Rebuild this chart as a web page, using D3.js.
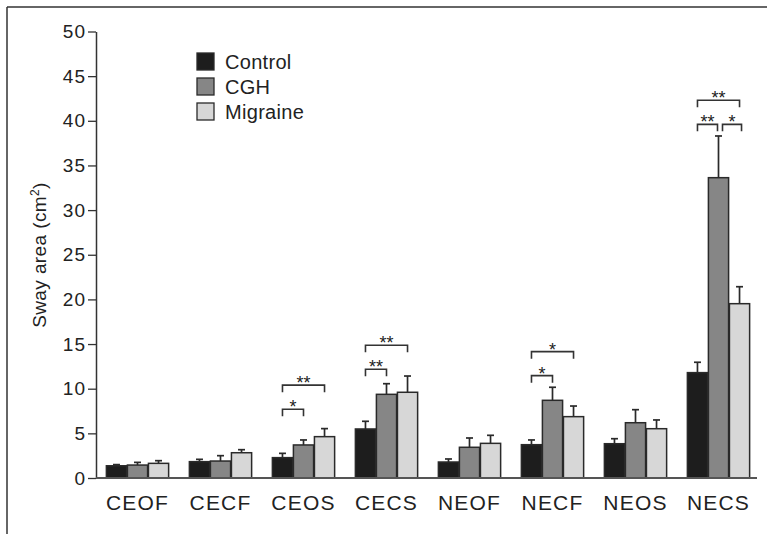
<!DOCTYPE html>
<html>
<head>
<meta charset="utf-8">
<script src="https://cdn.jsdelivr.net/npm/d3@7"></script>
<style>
  body { margin: 0; background: #fff; }
  svg text { font-family: "Liberation Sans", Arial, Helvetica, sans-serif; fill: #222; }
</style>
</head>
<body>
<svg id="chart" width="767" height="534"></svg>
<script>
// sway area per condition, means + upper error (SEM)
var categories = ['CEOF', 'CECF', 'CEOS', 'CECS', 'NEOF', 'NECF', 'NEOS', 'NECS'];
var seriesNames = ['Control', 'CGH', 'Migraine'];
var control     = [1.37, 1.83, 2.28, 5.49, 1.79, 3.73, 3.84, 11.8];
var controlErr  = [0.13, 0.26, 0.48, 0.86, 0.34, 0.53, 0.56, 1.16];
var cgh         = [1.45, 1.9, 3.7, 9.37, 3.44, 8.7, 6.19, 33.63];
var cghErr      = [0.3, 0.6, 0.56, 1.19, 1.04, 1.46, 1.46, 4.67];
var migraine    = [1.64, 2.83, 4.63, 9.6, 3.88, 6.87, 5.52, 19.52];
var migraineErr = [0.3, 0.34, 0.9, 1.82, 0.9, 1.19, 0.98, 1.9];
var yTicks = [0, 5, 10, 15, 20, 25, 30, 35, 40, 45, 50];

// significance brackets
var sigCategory = ['CEOS', 'CEOS', 'CECS', 'CECS', 'NECF', 'NECF', 'NECS', 'NECS', 'NECS'];
var sigFrom     = ['Control', 'Control', 'Control', 'Control', 'Control', 'Control', 'Control', 'CGH', 'Control'];
var sigTo       = ['CGH', 'Migraine', 'CGH', 'Migraine', 'CGH', 'Migraine', 'CGH', 'Migraine', 'Migraine'];
var sigLevel    = [7.7, 10.4, 12.17, 14.86, 11.46, 14.15, 39.6, 39.6, 42.3];
var sigStars    = ['*', '**', '**', '**', '*', '*', '**', '*', '**'];

var colors = {'Control': '#1d1d1d', 'CGH': '#868686', 'Migraine': '#d7d7d7'};
var values = {'Control': control, 'CGH': cgh, 'Migraine': migraine};
var errors = {'Control': controlErr, 'CGH': cghErr, 'Migraine': migraineErr};

var svg = d3.select('#chart');

// frame lines (top and left)
svg.append('line').attr('x1', 7).attr('y1', 7).attr('x2', 767).attr('y2', 7)
  .attr('stroke', '#333').attr('stroke-width', 1.5);
svg.append('line').attr('x1', 7).attr('y1', 7).attr('x2', 7).attr('y2', 534)
  .attr('stroke', '#333').attr('stroke-width', 1.5);

var x = d3.scaleBand().domain(categories).range([96, 760])
  .paddingInner(0.25).paddingOuter(0.125);
var xs = d3.scaleBand().domain(seriesNames).range([0, x.bandwidth()]).paddingInner(0.04);
var y = d3.scaleLinear().domain([0, 50]).range([478, 31.5]);

// y axis
var gy = svg.append('g').attr('transform', 'translate(96,0)')
  .call(d3.axisLeft(y).tickValues(yTicks).tickSize(8).tickPadding(2).tickSizeOuter(0));
gy.select('.domain').attr('stroke', '#333').attr('stroke-width', 1.5);
gy.selectAll('.tick line').attr('stroke', '#333').attr('stroke-width', 1.3);
gy.selectAll('.tick text').style('font-size', '19px').attr('letter-spacing', '1px');

// y label
var yl = svg.append('text')
  .attr('transform', 'translate(46,255) rotate(-90)')
  .attr('text-anchor', 'middle')
  .attr('letter-spacing', '0.4px')
  .style('font-size', '19px');
yl.append('tspan').text('Sway area (cm');
yl.append('tspan').attr('baseline-shift', 'super').style('font-size', '12px').text('2');
yl.append('tspan').text(')');

// bars
var groups = svg.selectAll('g.group').data(categories).enter()
  .append('g').attr('class', 'group')
  .attr('transform', function(d) { return 'translate(' + x(d) + ',0)'; });

seriesNames.forEach(function(s) {
  groups.append('line')
    .attr('x1', function(d, i) { return xs(s) + xs.bandwidth() / 2; })
    .attr('x2', function(d, i) { return xs(s) + xs.bandwidth() / 2; })
    .attr('y1', function(d, i) { return y(values[s][i]); })
    .attr('y2', function(d, i) { return y(values[s][i] + errors[s][i]); })
    .attr('stroke', '#2a2a2a').attr('stroke-width', 1.7);
  groups.append('line')
    .attr('x1', function(d, i) { return xs(s) + xs.bandwidth() / 2 - 3.5; })
    .attr('x2', function(d, i) { return xs(s) + xs.bandwidth() / 2 + 3.5; })
    .attr('y1', function(d, i) { return y(values[s][i] + errors[s][i]); })
    .attr('y2', function(d, i) { return y(values[s][i] + errors[s][i]); })
    .attr('stroke', '#2a2a2a').attr('stroke-width', 1.7);
  groups.append('rect')
    .attr('x', xs(s))
    .attr('width', xs.bandwidth())
    .attr('y', function(d, i) { return y(values[s][i]); })
    .attr('height', function(d, i) { return y(0) - y(values[s][i]); })
    .attr('fill', colors[s])
    .attr('stroke', '#2a2a2a').attr('stroke-width', 1.5);
});

// x axis
var gx = svg.append('g').attr('transform', 'translate(0,478)')
  .call(d3.axisBottom(x).tickSize(0).tickPadding(17).tickSizeOuter(0));
gx.select('.domain').attr('stroke', '#555').attr('stroke-width', 1.8).attr('d', 'M96,0H757');
gx.selectAll('.tick text').style('font-size', '21px').attr('letter-spacing', '1.2px');

// significance brackets
sigCategory.forEach(function(c, i) {
  var cx = function(s) { return x(c) + xs(s) + xs.bandwidth() / 2; };
  var x1 = cx(sigFrom[i]), x2 = cx(sigTo[i]);
  // keep adjacent brackets from touching at the shared bar
  if (sigLevel.some(function(l, j) { return j !== i && sigCategory[j] === c && l === sigLevel[i]; })) {
    if (sigFrom[i] === 'Control') { x2 -= 1; } else { x1 += 4; x2 += 2; }
  }
  var yy = y(sigLevel[i]);
  svg.append('path')
    .attr('d', 'M' + x1 + ',' + (yy + 7) + 'V' + yy + 'H' + x2 + 'V' + (yy + 7))
    .attr('fill', 'none').attr('stroke', '#333').attr('stroke-width', 1.6);
  svg.append('text')
    .attr('x', (x1 + x2) / 2).attr('y', yy + 4)
    .attr('text-anchor', 'middle')
    .style('font-size', '18px')
    .text(sigStars[i]);
});

// legend
var legend = svg.append('g').attr('transform', 'translate(197,53)');
seriesNames.forEach(function(s, i) {
  legend.append('rect')
    .attr('x', 0).attr('y', i * 25).attr('width', 17).attr('height', 17)
    .attr('fill', colors[s]).attr('stroke', '#2a2a2a').attr('stroke-width', 1.3);
  legend.append('text')
    .attr('x', 28).attr('y', i * 25 + 16)
    .attr('letter-spacing', '0.3px')
    .style('font-size', '20px')
    .text(s);
});
</script>
</body>
</html>
